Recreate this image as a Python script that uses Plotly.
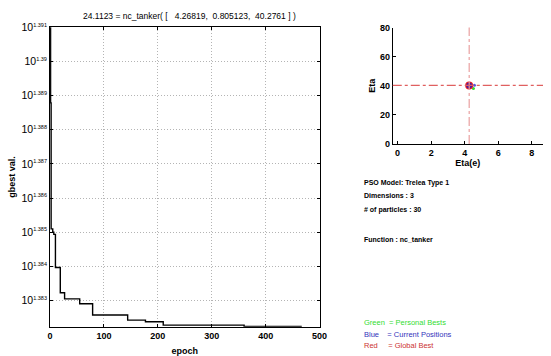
import plotly.graph_objects as go

# PSO run history: global-best value at the epochs where it improved
epochs = [0, 1, 2, 5, 7, 10, 19, 27, 55, 79, 144, 177, 210, 360, 467]
gbest_vals = [25.3, 24.4786, 24.2716, 24.2660, 24.2626, 24.2083, 24.1672,
              24.1573, 24.1494, 24.1309, 24.1226, 24.1199, 24.1145,
              24.1123, 24.1123]

# log-axis tick exponents
y_exps = [1.383, 1.384, 1.385, 1.386, 1.387, 1.388, 1.389, 1.39, 1.391]
x_ticks = [0, 100, 200, 300, 400, 500]

# swarm snapshot (Eta(e) vs Eta)
gbest_pos = [4.26819, 40.2761]
current_x = [4.27, 4.58]
current_y = [40.28, 40.4]
pbest_x = [4.27, 4.52]
pbest_y = [40.28, 38.2]

best_val = 24.1123
best_params = ["4.26819", "0.805123", "40.2761"]

FONT = "Liberation Sans"

fig = go.Figure()

fig.add_trace(go.Scatter(
    x=epochs, y=gbest_vals, mode="lines", line_shape="hv",
    line=dict(color="black", width=1.4), xaxis="x", yaxis="y",
    showlegend=False, hoverinfo="skip"))

fig.add_trace(go.Scatter(
    x=pbest_x, y=pbest_y, mode="markers",
    marker=dict(color="#33dd33", size=3, line=dict(width=0)),
    xaxis="x2", yaxis="y2", showlegend=False, hoverinfo="skip"))
fig.add_trace(go.Scatter(
    x=[gbest_pos[0]], y=[gbest_pos[1]], mode="markers",
    marker=dict(color="#ee2222", size=8, line=dict(width=0)),
    xaxis="x2", yaxis="y2", showlegend=False, hoverinfo="skip"))
fig.add_trace(go.Scatter(
    x=current_x, y=current_y, mode="markers",
    marker=dict(color="#1111cc", size=[6, 3], line=dict(width=0)),
    xaxis="x2", yaxis="y2", showlegend=False, hoverinfo="skip"))

# cross-hair through the global best
fig.add_shape(type="line", xref="x2", yref="y2 domain",
              x0=gbest_pos[0], x1=gbest_pos[0], y0=0, y1=1,
              line=dict(color="#eaa0a0", width=1.2, dash="dashdot"))
fig.add_shape(type="line", xref="x2 domain", yref="y2",
              x0=0, x1=1, y0=gbest_pos[1], y1=gbest_pos[1],
              line=dict(color="#e06060", width=1.2, dash="dashdot"))

tick_font = dict(family=FONT, size=9, color="black")
grid = dict(showgrid=True, gridcolor="#b4b4b4", griddash="1px,2px", gridwidth=1)

fig.update_layout(
    width=551, height=356,
    margin=dict(l=0, r=0, t=0, b=0),
    paper_bgcolor="white", plot_bgcolor="white",
    font=dict(family=FONT, color="black"),
    xaxis=dict(
        domain=[48 / 551, 323 / 551], range=[0, 500],
        tickvals=x_ticks, ticktext=[f"<b>{t}</b>" for t in x_ticks],
        tickfont=tick_font, ticks="inside", ticklen=3, tickcolor="black",
        showline=True, linecolor="black", linewidth=1, mirror="allticks",
        zeroline=False, **grid,
        title=dict(text="<b>epoch</b>", font=dict(family=FONT, size=9),
                   standoff=8),
    ),
    yaxis=dict(
        domain=[25 / 356, 334 / 356], type="log",
        range=[1.38223, 1.391],
        tickvals=[10 ** e for e in y_exps],
        ticktext=[f"10<sup><span style='font-size:5.5px'>{e:g}</span></sup>"
                  for e in y_exps],
        tickfont=dict(family=FONT, size=10.5, color="black"),
        ticks="inside", ticklen=3, tickcolor="black",
        showline=True, linecolor="black", linewidth=1, mirror="allticks",
        zeroline=False, **grid,
        title=dict(text="<b>gbest val.</b>", font=dict(family=FONT, size=9),
                   standoff=4),
    ),
    xaxis2=dict(
        domain=[397.7 / 551, 1.0], range=[-0.29, 8.67],
        tickvals=[0, 2, 4, 6, 8],
        ticktext=["<b>0</b>", "<b>2</b>", "<b>4</b>", "<b>6</b>", "<b>8</b>"],
        tickfont=tick_font, ticks="inside", ticklen=3, tickcolor="black",
        showline=True, linecolor="black", linewidth=1,
        showgrid=False, zeroline=False, anchor="y2",
        title=dict(text="<b>Eta(e)</b>", font=dict(family=FONT, size=9),
                   standoff=1),
    ),
    yaxis2=dict(
        domain=[(356 - 142.5) / 356, (356 - 22.3) / 356], range=[0, 80],
        tickvals=[0, 20, 40, 60, 80],
        ticktext=["<b>0</b>", "<b>20</b>", "<b>40</b>", "<b>60</b>", "<b>80</b>"],
        tickfont=tick_font, ticks="inside", ticklen=3, tickcolor="black",
        showline=True, linecolor="black", linewidth=1,
        showgrid=False, zeroline=False, anchor="x2",
        title=dict(text="<b>Eta</b>", font=dict(family=FONT, size=9),
                   standoff=2),
    ),
)

title_text = (f"{best_val} = nc_tanker( [   {best_params[0]},  "
              f"{best_params[1]},  {best_params[2]} ] )")
fig.add_annotation(text=title_text, xref="paper", yref="paper",
                   x=190 / 551, y=(356 - 10) / 356, showarrow=False,
                   xanchor="center", yanchor="middle",
                   font=dict(family=FONT, size=8.5, color="black"))

info_lines = [
    ("<b>PSO Model: Trelea Type 1</b>", 183),
    ("<b>Dimensions : 3</b>", 196),
    ("<b># of particles : 30</b>", 211),
    ("<b>Function : nc_tanker</b>", 241),
]
for txt, yy in info_lines:
    fig.add_annotation(text=txt, xref="paper", yref="paper",
                       x=366 / 551, y=(356 - yy) / 356, showarrow=False,
                       xanchor="left", yanchor="middle",
                       font=dict(family=FONT, size=7, color="black"))

key_lines = [
    ("Green&nbsp; = Personal Bests", 327, "#33dd33"),
    ("Blue&nbsp;&nbsp;&nbsp; = Current Positions", 339, "#3333bb"),
    ("Red&nbsp;&nbsp;&nbsp;&nbsp; = Global Best", 350, "#cc3333"),
]
for txt, yy, col in key_lines:
    fig.add_annotation(text=txt, xref="paper", yref="paper",
                       x=366 / 551, y=(356 - yy) / 356, showarrow=False,
                       xanchor="left", yanchor="middle",
                       font=dict(family=FONT, size=7.5, color=col))

fig.write_html("out.html")
